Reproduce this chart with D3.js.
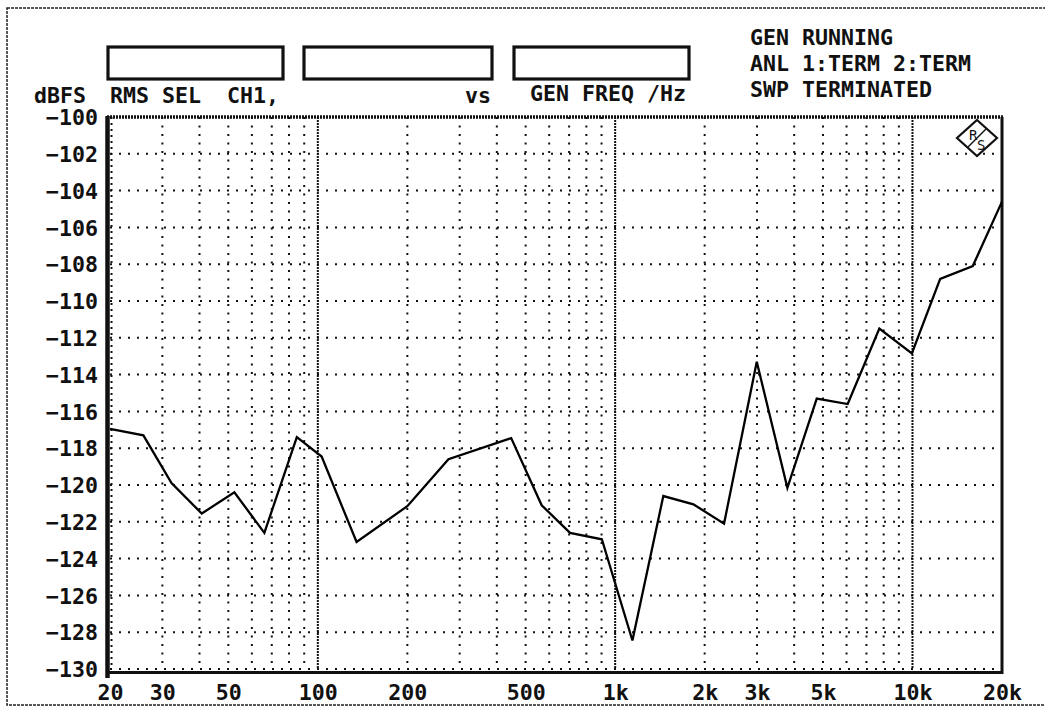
<!DOCTYPE html>
<html>
<head>
<meta charset="utf-8">
<script src="https://cdn.jsdelivr.net/npm/d3@7"></script>
<style>
  body { margin: 0; background: #fff; }
  svg text { font-family: 'DejaVu Sans Mono', monospace; font-weight: bold; font-size: 21.6px; fill: #111; }
</style>
</head>
<body>
<svg id="chart" width="1045" height="708"></svg>
<script>
// sweep points
const freqHz = [20, 25.9, 32.2, 40.7, 52.4, 66.1, 85, 103, 135, 200, 275, 447, 566, 705, 902,
  1143, 1452, 1833, 2324, 2994, 3795, 4764, 6054, 7736, 9951, 12390, 15950, 20000]
const levelDb = [-116.95, -117.3, -119.9, -121.55, -120.4, -122.6, -117.4, -118.45, -123.1, -121.15, -118.6, -117.45, -121.1, -122.6, -122.95,
  -128.45, -120.6, -121.05, -122.1, -113.3, -120.15, -115.3, -115.6, -111.5, -112.85, -108.8, -108.1, -104.6]

const yTicks = [-100, -102, -104, -106, -108, -110, -112, -114, -116, -118, -120, -122, -124, -126, -128, -130]
const xTicks = [20, 30, 50, 100, 200, 500, 1000, 2000, 3000, 5000, 10000, 20000]
const xTickLabels = ['20', '30', '50', '100', '200', '500', '1k', '2k', '3k', '5k', '10k', '20k']
const statusLines = ['GEN RUNNING', 'ANL 1:TERM 2:TERM', 'SWP TERMINATED']

const svg = d3.select('#chart')
const plotLeft = 110, plotRight = 1002, plotTop = 117, plotBottom = 669

const x = d3.scaleLog().domain([20, 20000]).range([plotLeft, plotRight])
const y = d3.scaleLinear().domain([-130, -100]).range([plotBottom, plotTop])

// outer frame
svg.append('rect').attr('x', 7).attr('y', 8).attr('width', 1060).attr('height', 697)
  .attr('fill', 'none').attr('stroke', '#222').attr('stroke-width', 1.5).attr('stroke-dasharray', '3,1')

// header boxes
const boxes = [[108, 283], [304, 492], [514, 689]]
svg.selectAll('.box').data(boxes).enter().append('rect')
  .attr('x', d => d[0]).attr('y', 47).attr('width', d => d[1] - d[0]).attr('height', 32)
  .attr('fill', 'none').attr('stroke', '#111').attr('stroke-width', 3.2)

svg.append('text').attr('x', 34).attr('y', 103).text('dBFS')
svg.append('text').attr('x', 110).attr('y', 103).attr('xml:space', 'preserve').text('RMS SEL  CH1,')
svg.append('text').attr('x', 465).attr('y', 103).text('vs')
svg.append('text').attr('x', 530).attr('y', 101).text('GEN FREQ /Hz')
svg.selectAll('.status').data(statusLines).enter().append('text')
  .attr('x', 750).attr('y', (d, i) => 45 + i * 26).text(d => d)

// grid
const minor = []
;[10, 100, 1000, 10000].forEach(dec => {
  for (let m = 2; m <= 9; m++) {
    const f = dec * m
    if (f > 20 && f < 20000) minor.push(f)
  }
})
const g = svg.append('g')
g.selectAll('.vminor').data(minor).enter().append('line')
  .attr('x1', d => x(d)).attr('x2', d => x(d)).attr('y1', plotTop).attr('y2', plotBottom)
  .attr('stroke', '#111').attr('stroke-width', 2).attr('stroke-dasharray', '2,6.5')
g.selectAll('.vmajor').data([100, 1000, 10000]).enter().append('line')
  .attr('x1', d => x(d)).attr('x2', d => x(d)).attr('y1', plotTop).attr('y2', plotBottom)
  .attr('stroke', '#111').attr('stroke-width', 2).attr('stroke-dasharray', '2,1')
g.append('line').attr('x1', plotLeft + 1.5).attr('x2', plotLeft + 1.5).attr('y1', plotTop).attr('y2', plotBottom)
  .attr('stroke', '#111').attr('stroke-width', 2).attr('stroke-dasharray', '2,4')
g.selectAll('.hgrid').data(yTicks.filter(v => v !== -100)).enter().append('line')
  .attr('x1', plotLeft).attr('x2', plotRight).attr('y1', d => y(d)).attr('y2', d => y(d))
  .attr('stroke', '#111').attr('stroke-width', 2).attr('stroke-dasharray', '2,7')

// plot frame
svg.append('line').attr('x1', plotLeft - 3).attr('x2', plotRight + 1).attr('y1', plotTop).attr('y2', plotTop)
  .attr('stroke', '#111').attr('stroke-width', 3.5).attr('stroke-dasharray', '2,1')
svg.append('line').attr('x1', plotLeft - 3).attr('x2', plotRight + 1).attr('y1', plotBottom + 3.5).attr('y2', plotBottom + 3.5)
  .attr('stroke', '#111').attr('stroke-width', 3)
svg.append('line').attr('x1', plotLeft - 2.5).attr('x2', plotLeft - 2.5).attr('y1', plotTop - 1).attr('y2', plotBottom + 9)
  .attr('stroke', '#111').attr('stroke-width', 4.5)
svg.append('line').attr('x1', plotRight).attr('x2', plotRight).attr('y1', plotTop).attr('y2', plotBottom + 5)
  .attr('stroke', '#111').attr('stroke-width', 3)

// axes (labels only)
const yAxis = svg.append('g').attr('transform', `translate(${plotLeft - 12},0)`)
  .call(d3.axisLeft(y).tickValues(yTicks).tickSize(0).tickPadding(0).tickFormat(d => '\u2212' + Math.abs(d)))
const xAxis = svg.append('g').attr('transform', `translate(0,${plotBottom + 14})`)
  .call(d3.axisBottom(x).tickValues(xTicks).tickSize(0).tickPadding(0).tickFormat((d, i) => xTickLabels[i]))
;[yAxis, xAxis].forEach(a => {
  a.select('.domain').remove()
  a.attr('font-family', null).attr('font-size', null)
  a.selectAll('text').attr('fill', null)
})
yAxis.selectAll('text').attr('dy', '0.36em')
xAxis.selectAll('text').attr('dy', '0.78em')

// R&S logo
const logo = svg.append('g').attr('transform', 'translate(977,138)')
logo.append('path').attr('d', 'M0,-18 L20,0 L0,18 L-20,0 Z')
  .attr('fill', '#fff').attr('stroke', '#111').attr('stroke-width', 2.2)
logo.append('path').attr('d', 'M-9,9 L9,-9')
  .attr('fill', 'none').attr('stroke', '#111').attr('stroke-width', 1.4)
logo.append('text').attr('x', -8).attr('y', 2).style('font-size', '14px').style('font-weight', 'normal').text('R')
logo.append('text').attr('x', 0).attr('y', 12).style('font-size', '14px').style('font-weight', 'normal').text('S')

// data line
const line = d3.line().x((d, i) => x(freqHz[i])).y(d => y(d))
svg.append('path').datum(levelDb).attr('d', line)
  .attr('fill', 'none').attr('stroke', '#000').attr('stroke-width', 2.3).attr('stroke-linejoin', 'miter')
</script>
</body>
</html>
